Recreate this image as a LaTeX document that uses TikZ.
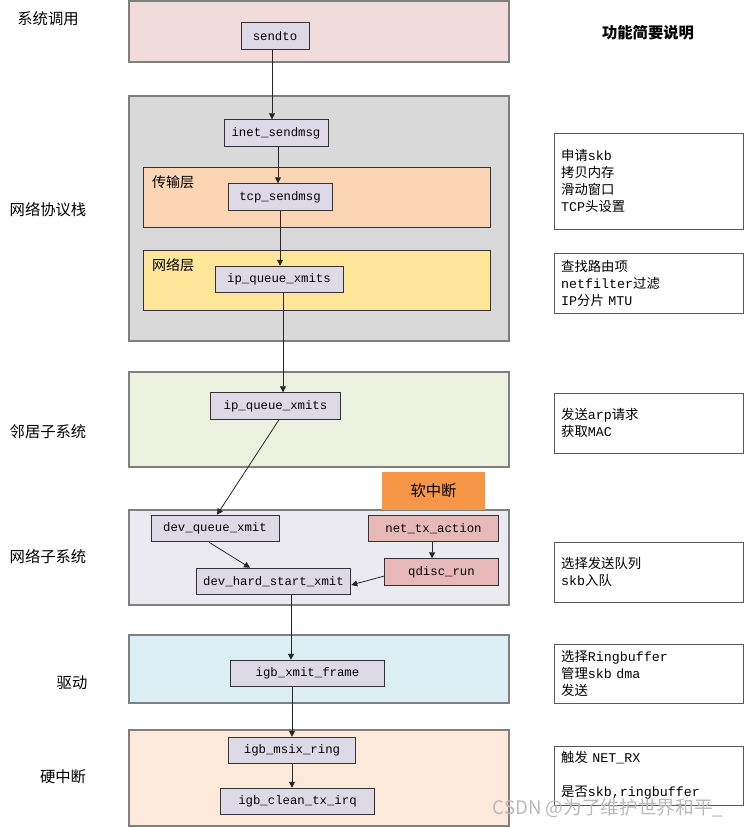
\documentclass[tikz,border=0pt]{standalone}
\usepackage{fontspec}
\setmainfont{Liberation Mono}
\newfontfamily\cjk{Noto Sans CJK SC}
\newcommand{\zh}[1]{{\cjk #1}}
\usepackage{tikz}
\usetikzlibrary{arrows.meta,fit,positioning}
\definecolor{SysFill}{HTML}{F2DCDB}
\definecolor{StackFill}{HTML}{D9D9D9}
\definecolor{TransFill}{HTML}{FCD5B5}
\definecolor{NetFill}{HTML}{FFE699}
\definecolor{NeighFill}{HTML}{EBF1DE}
\definecolor{DevFill}{HTML}{ECEAF1}
\definecolor{DrvFill}{HTML}{DBEEF4}
\definecolor{IrqFill}{HTML}{FDE9D9}
\definecolor{FnFill}{HTML}{DDD9E7}
\definecolor{SoftFill}{HTML}{E6B9B8}
\definecolor{SoftTag}{HTML}{F79646}
\definecolor{LineGray}{HTML}{7F7F7F}
\definecolor{ArrowGray}{HTML}{262626}

\begin{document}
\begin{tikzpicture}[
  x=0.75pt, y=-0.75pt,
  layer/.style={rectangle, draw=LineGray, line width=0.9pt, inner sep=0pt},
  sublayer/.style={rectangle, draw=black!80, line width=0.6pt, inner sep=0pt},
  fn/.style={rectangle, draw=black!80, fill=FnFill, line width=0.6pt,
             minimum height=20pt, inner sep=1pt,
             font=\fontsize{9.25}{11}\selectfont},
  softfn/.style={fn, fill=SoftFill},
  tag/.style={rectangle, fill=SoftTag, minimum width=77.25pt, minimum height=28.5pt,
              font=\cjk\fontsize{11.5}{12}\selectfont},
  grplbl/.style={font=\cjk\fontsize{11.5}{12}\selectfont},
  sublbl/.style={font=\cjk\fontsize{10.5}{11}\selectfont},
  desc/.style={rectangle, draw=black!65, line width=0.7pt, fill=white,
               minimum width=141.75pt, text width=131pt, inner xsep=5.25pt,
               align=left, font=\fontsize{10}{12.75}\selectfont},
  arr/.style={-{Triangle[length=4.5pt,width=4.5pt]}, line width=0.6pt, color=ArrowGray},
]
  \useasboundingbox (0,0) rectangle (744,828);

  % Layers
  \node[layer, fill=SysFill, fit={(129,1) (509,62)}] (sysbox) {};
  \node[layer, fill=StackFill, fit={(129,96) (509,341)}] (stackbox) {};
  \node[sublayer, fill=TransFill, fit={(143,167) (490,227)}] (transbox) {};
  \node[sublayer, fill=NetFill, fit={(143,250) (490,310)}] (netbox) {};
  \node[layer, fill=NeighFill, fit={(129,372) (509,467)}] (neighbox) {};
  \node[layer, fill=DevFill, fit={(129,510) (509,605)}] (devbox) {};
  \node[layer, fill=DrvFill, fit={(129,635) (509,703)}] (drvbox) {};
  \node[layer, fill=IrqFill, fit={(129,730) (509,826)}] (irqbox) {};
  \node[tag] (softirq) at (433.5,491) {软中断};

  % Layer names
  \node[grplbl] (lsys) at (48,19) {系统调用};
  \node[grplbl] (lstack) at (48,210) {网络协议栈};
  \node[sublbl] (ltrans) at (173,182) {传输层};
  \node[sublbl] (lnet) at (173,265) {网络层};
  \node[grplbl] (lneigh) at (48,432) {邻居子系统};
  \node[grplbl] (ldev) at (48,557) {网络子系统};
  \node[grplbl] (ldrv) at (72,683) {驱动};
  \node[grplbl] (lirq) at (63,777) {硬中断};

  % Functions
  \node[fn, minimum width=51pt] (sendto) at (275,36) {sendto};
  \node[fn, minimum width=78pt] (inet) at (276,133) {inet\_sendmsg};
  \node[fn, minimum width=78pt] (tcp) at (280,197) {tcp\_sendmsg};
  \node[fn, minimum width=96pt] (ipq) at (279,279.5) {ip\_queue\_xmits};
  \node[fn, minimum width=97pt] (ipn) at (275.5,406) {ip\_queue\_xmits};
  \node[fn, minimum width=96pt] (devq) at (215,528.5) {dev\_queue\_xmit};
  \node[softfn, minimum width=97pt] (nettx) at (433.5,528.5) {net\_tx\_action};
  \node[softfn, minimum width=85pt] (qdisc) at (441.5,572) {qdisc\_run};
  \node[fn, minimum width=116pt] (devhard) at (273.5,581.5) {dev\_hard\_start\_xmit};
  \node[fn, minimum width=116pt] (igbx) at (307.5,673.5) {igb\_xmit\_frame};
  \node[fn, minimum width=95pt] (msix) at (292,750.5) {igb\_msix\_ring};
  \node[fn, minimum width=116pt] (clean) at (297.5,801.5) {igb\_clean\_tx\_irq};

  % Arrows
  \draw[arr] ([xshift=-2.25pt]sendto.south) -- ([xshift=-2.25pt]sendto.south |- inet.north);
  \draw[arr] ([xshift=1.5pt]inet.south) -- ([xshift=1.5pt]inet.south |- tcp.north);
  \draw[arr] (tcp.south) -- (tcp.south |- ipq.north);
  \draw[arr] ([xshift=3pt]ipq.south) -- ([xshift=3pt]ipq.south |- ipn.north);
  \draw[arr] ([xshift=2.6pt]ipn.south) -- ([xshift=1.5pt]devq.north);
  \draw[arr] ([xshift=-4.5pt]devq.south) -- ([xshift=-17.6pt]devhard.north);
  \draw[arr] ([xshift=-1.1pt]nettx.south) -- ([xshift=-1.1pt]nettx.south |- qdisc.north);
  \draw[arr] ([yshift=-3pt]qdisc.west) -- ([yshift=-2.6pt]devhard.east);
  \draw[arr] ([xshift=13.1pt]devhard.south) -- ([xshift=13.1pt]devhard.south |- igbx.north);
  \draw[arr] (msix.north |- igbx.south) -- (msix.north);
  \draw[arr] (msix.south) -- (msix.south |- clean.north);

  % Descriptions
  \node[font=\cjk\bfseries\fontsize{11.5}{12}\selectfont] (title) at (648,33) {功能简要说明};
  \node[desc, minimum height=72pt] (d1) at (648.5,181)
    {\zh{申请}skb\\\zh{拷贝内存}\\\zh{滑动窗口}\\TCP\zh{头设置}};
  \node[desc, minimum height=45pt] (d2) at (648.5,283)
    {\zh{查找路由项}\\netfilter\zh{过滤}\\IP\zh{分片} MTU};
  \node[desc, minimum height=45pt] (d3) at (648.5,423)
    {\zh{发送}arp\zh{请求}\\\zh{获取}MAC};
  \node[desc, minimum height=45pt] (d4) at (648.5,572)
    {\zh{选择发送队列}\\skb\zh{入队}};
  \node[desc, minimum height=44.25pt] (d5) at (648.5,673.5)
    {\zh{选择}Ringbuffer\\\zh{管理}skb dma\\\zh{发送}};
  \node[desc, minimum height=44.25pt] (d6) at (648.5,775.5)
    {\zh{触发} NET\_RX\\~\\\zh{是否}skb,ringbuffer};

  % Watermark
  \node[font=\cjk\fontsize{14}{14}\selectfont, text=gray!55] (mark) at (608,808)
    {CSDN @为了维护世界和平\_};
\end{tikzpicture}
\end{document}
